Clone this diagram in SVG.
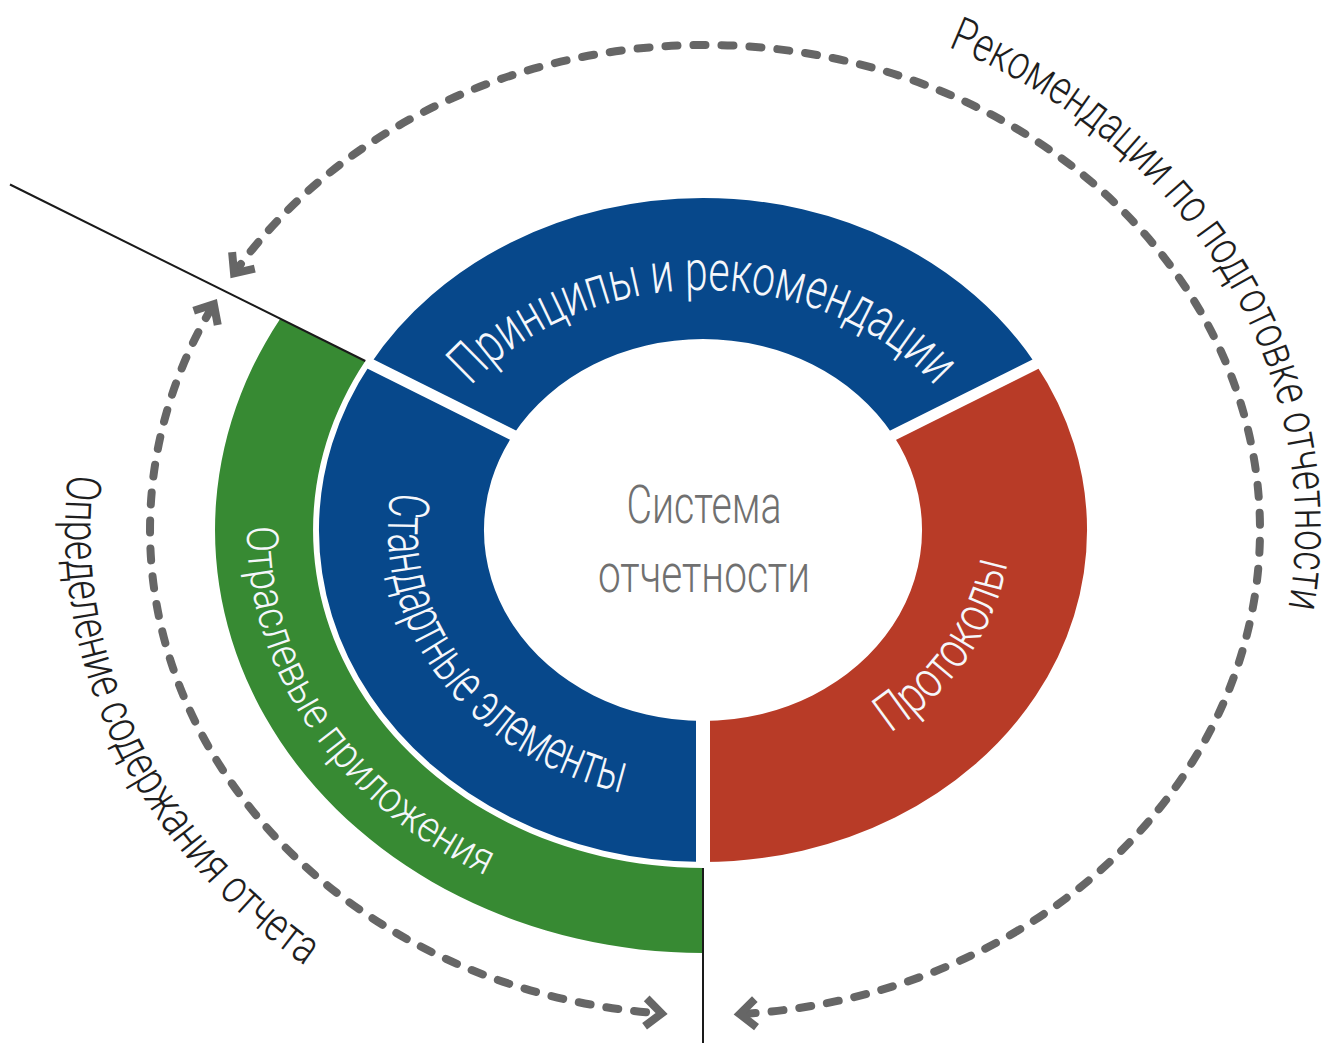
<svg xmlns="http://www.w3.org/2000/svg" width="1338" height="1043" viewBox="0 0 1338 1043">
<defs>
<style>
.blue{fill:#07488b}
.red{fill:#b83b27}
.green{fill:#378a33}
.gap{stroke:#ffffff;fill:none}
.dash{fill:none;stroke:#666666;stroke-width:8;stroke-linecap:round;stroke-dasharray:12 16;marker-start:url(#chev);marker-end:url(#chev)}
.rule{stroke:#1a1a1a;stroke-width:2;fill:none}
.ring-label{font-family:Roboto,"Liberation Sans",sans-serif;font-weight:300;fill:#f5f7fb}
.outer-label{font-family:Roboto,"Liberation Sans",sans-serif;font-weight:300;fill:#1e1e1e;font-size:48px}
.center-label{font-family:Roboto,"Liberation Sans",sans-serif;font-weight:300;fill:#707070;font-size:53px;text-anchor:middle}
</style>
<marker id="chev" markerUnits="userSpaceOnUse" markerWidth="40" markerHeight="40" refX="0" refY="0" orient="auto-start-reverse" overflow="visible">
<path d="M -12 -14 L 4 0 L -12 14" fill="none" stroke="#666666" stroke-width="8" stroke-linejoin="miter"/>
</marker>
<path id="p-rec" d="M 948 47 A 590 527 0 0 1 1288 610"/>
<path id="p-opr" d="M 68.2 474.6 A 640 558 0 0 0 304.9 965.5"/>
<path id="p-prin" d="M 451.9 410 A 290 240 0 0 1 954.1 410"/>
<path id="p-std" d="M 391.1 492.1 A 315 272 0 0 0 621.5 792.7"/>
<path id="p-prot" d="M 890 733 A 306 265 0 0 0 1006 570"/>
<path id="p-sect" d="M 247 526.6 A 456 393 0 0 0 488.9 877"/>
</defs>
<rect width="1338" height="1043" fill="#ffffff"/>

<g id="node-sector">
<path class="green" d="M 703 953 A 488 423 0 0 1 280.4 318.5 L 365.3 361 A 390 338 0 0 0 703 868 Z"/>
<text class="ring-label" font-size="44"><textPath href="#p-sect" textLength="447" lengthAdjust="spacingAndGlyphs">Отраслевые приложения</textPath></text>
</g>

<g id="node-principles">
<path class="blue" d="M 370.4 364 A 384 332 0 0 1 1035.6 364 L 892.7 434.5 A 219 191 0 0 0 513.3 434.5 Z"/>
</g>
<g id="node-standard">
<path class="blue" d="M 703 862 A 384 332 0 0 1 370.4 364 L 513.3 434.5 A 219 191 0 0 0 703 721 Z"/>
</g>
<g id="node-protocols">
<path class="red" d="M 1035.6 364 A 384 332 0 0 1 703 862 L 703 721 A 219 191 0 0 0 892.7 434.5 Z"/>
</g>
<g id="gaps">
<line class="gap" x1="703" y1="530" x2="367.7" y2="362.6" stroke-width="11"/>
<line class="gap" x1="703" y1="530" x2="1045" y2="359.3" stroke-width="11"/>
<line class="gap" x1="703" y1="530" x2="703" y2="865" stroke-width="14"/>
</g>
<g id="ring-labels">
<text class="ring-label" font-size="56" text-anchor="middle"><textPath href="#p-prin" startOffset="50%" textLength="517" lengthAdjust="spacingAndGlyphs">Принципы и рекомендации</textPath></text>
<text class="ring-label" font-size="56"><textPath href="#p-std" textLength="417" lengthAdjust="spacingAndGlyphs">Стандартные элементы</textPath></text>
<text class="ring-label" font-size="52"><textPath href="#p-prot" textLength="212" lengthAdjust="spacingAndGlyphs">Протоколы</textPath></text>
</g>

<g id="node-center">
<text class="center-label" x="704" y="523" textLength="155" lengthAdjust="spacingAndGlyphs">Система</text>
<text class="center-label" x="704" y="592" textLength="212" lengthAdjust="spacingAndGlyphs">отчетности</text>
</g>

<g id="connectors">
<line class="rule" x1="10" y1="184.5" x2="365.3" y2="361"/>
<line class="rule" x1="703" y1="868" x2="703" y2="1043"/>
<path class="dash" d="M 743.7 1013.8 A 555 485 0 1 0 236.4 270.1"/>
<path class="dash" d="M 211.8 307.6 A 555 485 0 0 0 657.6 1013.2"/>
</g>

<g id="outer-labels">
<text class="outer-label"><textPath href="#p-rec" textLength="710" lengthAdjust="spacingAndGlyphs">Рекомендации по подготовке отчетности</textPath></text>
<text class="outer-label"><textPath href="#p-opr" textLength="573" lengthAdjust="spacingAndGlyphs">Определение содержания отчета</textPath></text>
</g>
</svg>
